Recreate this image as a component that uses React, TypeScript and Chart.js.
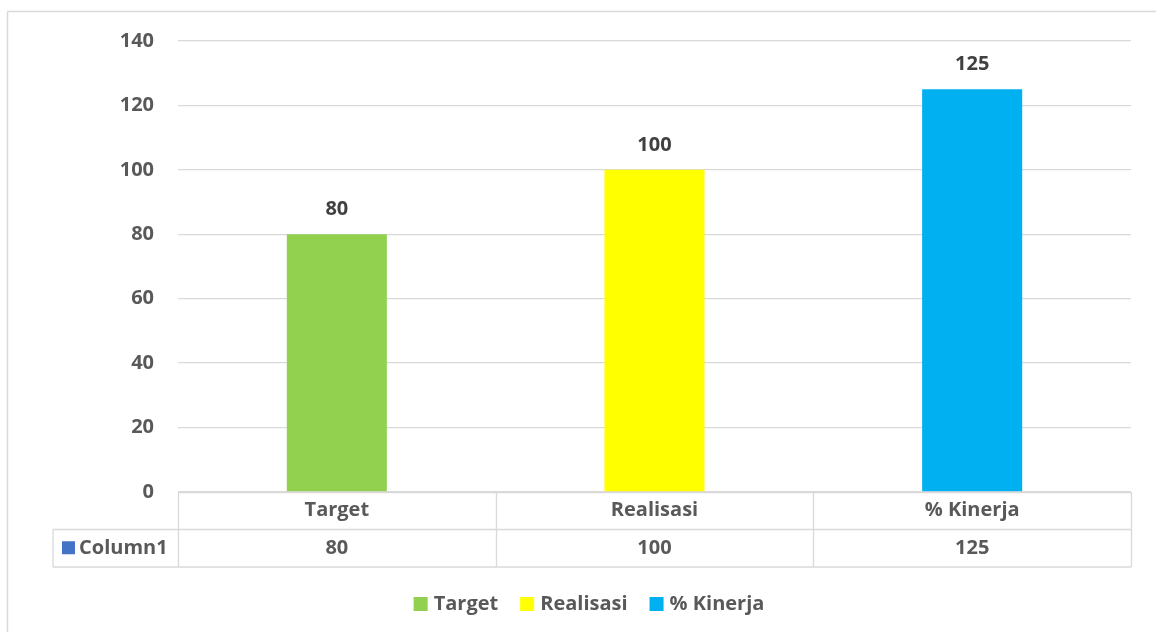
import React, { useEffect, useRef } from "react";
import { Chart, registerables } from "chart.js";

Chart.register(...registerables);

const categories = ["Target", "Realisasi", "% Kinerja"];
const values = [80, 100, 125];
const barColors = ["#92D050", "#FFFF00", "#00B0F0"];
const seriesName = "Column1";
const seriesColor = "#4472C4";
const yTicksMax = 140;
const yTicksStep = 20;

const FONT = "'Open Sans', 'Noto Sans', sans-serif";
const TEXT = "#595959";
const LINE = "#d9d9d9";
const FSIZE = 20;

const tablePlugin = {
  id: "excelTable",
  afterDraw(chart: any) {
    const ctx = chart.ctx;
    const area = chart.chartArea;
    const xs = chart.scales.x;
    const meta = chart.getDatasetMeta(0);
    const n = categories.length;
    const catW = (area.right - area.left) / n;
    const top = area.bottom;
    const rowH = 37.5;
    const r1 = top + rowH;
    const r2 = r1 + rowH;
    const tableLeft = 53;

    ctx.save();
    // outer chart border (left + top)
    ctx.strokeStyle = LINE;
    ctx.lineWidth = 1.5;
    ctx.beginPath();
    ctx.moveTo(7.5, 11.5);
    ctx.lineTo(chart.width, 11.5);
    ctx.moveTo(7.5, 11.5);
    ctx.lineTo(7.5, chart.height);
    ctx.stroke();

    // table lines
    ctx.lineWidth = 1.3;
    ctx.beginPath();
    ctx.moveTo(area.left, top + 0.5);
    ctx.lineTo(area.right, top + 0.5);
    ctx.moveTo(tableLeft, r1);
    ctx.lineTo(area.right, r1);
    ctx.moveTo(tableLeft, r2);
    ctx.lineTo(area.right, r2);
    ctx.moveTo(tableLeft, r1);
    ctx.lineTo(tableLeft, r2);
    for (let i = 0; i <= n; i++) {
      const x = Math.round(area.left + i * catW) + 0.5;
      ctx.moveTo(x, top);
      ctx.lineTo(x, r2);
    }
    ctx.stroke();

    // table text
    ctx.font = `bold ${FSIZE}px ${FONT}`;
    ctx.fillStyle = TEXT;
    ctx.textAlign = "center";
    ctx.textBaseline = "middle";
    for (let i = 0; i < n; i++) {
      const cx = xs.getPixelForValue(i);
      ctx.fillText(categories[i], cx, (top + r1) / 2);
      ctx.fillText(String(values[i]), cx, (r1 + r2) / 2);
    }
    // series name cell
    ctx.fillStyle = seriesColor;
    ctx.fillRect(62, (r1 + r2) / 2 - 7, 13, 13);
    ctx.fillStyle = TEXT;
    ctx.textAlign = "left";
    ctx.fillText(seriesName, 79, (r1 + r2) / 2);

    // data labels
    ctx.fillStyle = "#404040";
    ctx.textAlign = "center";
    meta.data.forEach((bar: any, i: number) => {
      ctx.fillText(String(values[i]), bar.x, bar.y - 25);
    });

    // legend
    const ly = 604;
    const box = 14;
    const gapBox = 6;
    const gapItem = 22;
    ctx.textAlign = "left";
    const widths = categories.map((c) => ctx.measureText(c).width);
    const total = widths.reduce((s, w) => s + box + gapBox + w, 0) + gapItem * (n - 1);
    let lx = 589 - total / 2;
    for (let i = 0; i < n; i++) {
      ctx.fillStyle = barColors[i];
      ctx.fillRect(lx, ly - 7, box, box);
      ctx.fillStyle = TEXT;
      ctx.fillText(categories[i], lx + box + gapBox, ly);
      lx += box + gapBox + widths[i] + gapItem;
    }
    ctx.restore();
  },
};

export default function App() {
  const ref = useRef<HTMLCanvasElement>(null);
  useEffect(() => {
    if (!ref.current) return;
    const chart = new Chart(ref.current, {
      type: "bar",
      data: {
        labels: categories,
        datasets: [
          {
            label: seriesName,
            data: values,
            backgroundColor: barColors,
            borderWidth: 0,
            categoryPercentage: 1,
            barPercentage: 0.315,
          },
        ],
      },
      options: {
        responsive: false,
        animation: false,
        layout: { padding: { left: 0, top: 41, right: 25, bottom: 140 } },
        plugins: { legend: { display: false }, tooltip: { enabled: false } },
        scales: {
          x: { display: false },
          y: {
            min: 0,
            max: yTicksMax,
            ticks: {
              stepSize: yTicksStep,
              padding: 24,
              color: TEXT,
              font: { family: FONT, size: FSIZE, weight: "bold" },
            },
            grid: { color: LINE, lineWidth: 1.3, drawTicks: false },
            border: { display: false },
            afterFit: (s: any) => {
              s.width = 178;
            },
          },
        },
      },
      plugins: [tablePlugin],
    });
    return () => chart.destroy();
  }, []);
  return (
    <canvas
      ref={ref}
      width={1156}
      height={632}
      style={{ position: "fixed", left: 0, top: 0, width: 1156, height: 632, background: "#fff" }}
    />
  );
}
